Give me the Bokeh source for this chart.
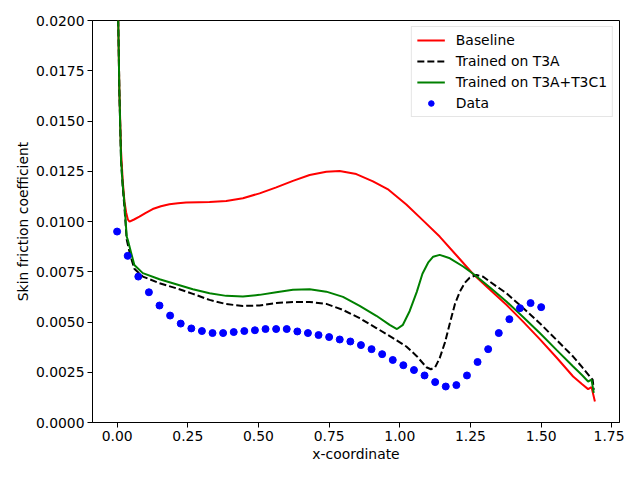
from bokeh.plotting import figure
from bokeh.models import FixedTicker, PrintfTickFormatter, Range1d, Legend, LegendItem
from bokeh.embed import file_html
from bokeh.resources import INLINE

# ---------------- data ----------------
baseline_x = [0.0, 0.004, 0.008, 0.014, 0.020, 0.026, 0.032, 0.038, 0.044, 0.060, 0.079, 0.100,
              0.126, 0.155, 0.185, 0.215, 0.244, 0.290, 0.327, 0.386, 0.445, 0.504, 0.563, 0.622,
              0.681, 0.740, 0.787, 0.846, 0.905, 0.960, 1.023, 1.080, 1.141, 1.200, 1.259, 1.318,
              1.377, 1.436, 1.495, 1.555, 1.613, 1.645, 1.666, 1.678, 1.690]
baseline_y = [0.0300, 0.0200, 0.0165, 0.0135, 0.0120, 0.0110, 0.01045, 0.0101, 0.00999, 0.0101,
              0.01024, 0.01042, 0.01062, 0.01076, 0.01086, 0.01091, 0.01094, 0.01096, 0.01097,
              0.01102, 0.01116, 0.01140, 0.01170, 0.01202, 0.01231, 0.01248, 0.01251, 0.01236,
              0.01200, 0.01158, 0.01085, 0.01008, 0.00925, 0.00832, 0.00739, 0.00662, 0.00586,
              0.00502, 0.00415, 0.00322, 0.00229, 0.00190, 0.00166, 0.00176, 0.00105]

t3a_x = [0.0, 0.004, 0.008, 0.014, 0.020, 0.026, 0.034, 0.042, 0.050, 0.061, 0.091, 0.150,
         0.209, 0.268, 0.327, 0.386, 0.445, 0.504, 0.563, 0.622, 0.681, 0.740, 0.799, 0.858,
         0.917, 0.976, 1.023, 1.060, 1.094, 1.110, 1.125, 1.141, 1.160, 1.177, 1.195, 1.212,
         1.230, 1.247, 1.271, 1.295, 1.318, 1.377, 1.436, 1.495, 1.555, 1.613, 1.645, 1.672,
         1.682, 1.686]
t3a_y = [0.0300, 0.0200, 0.0165, 0.0130, 0.0117, 0.0107, 0.0091, 0.0086, 0.00817, 0.00765,
         0.00726, 0.00693, 0.00668, 0.00640, 0.00610, 0.00589, 0.00580, 0.00582, 0.00594,
         0.00600, 0.00600, 0.00590, 0.00560, 0.00519, 0.00470, 0.00420, 0.00378, 0.00330,
         0.00275, 0.00265, 0.00275, 0.00320, 0.00400, 0.00494, 0.00590, 0.00650, 0.00695,
         0.00720, 0.00734, 0.00725, 0.00701, 0.00643, 0.00570, 0.00494, 0.00410, 0.00328,
         0.00275, 0.00229, 0.00213, 0.00163]

t3c1_x = [0.0, 0.004, 0.008, 0.014, 0.020, 0.026, 0.034, 0.038, 0.050, 0.061, 0.091, 0.150,
          0.209, 0.268, 0.327, 0.386, 0.445, 0.504, 0.563, 0.622, 0.681, 0.740, 0.799, 0.858,
          0.917, 0.964, 0.990, 1.011, 1.035, 1.060, 1.080, 1.100, 1.118, 1.141, 1.177, 1.224,
          1.265, 1.320, 1.377, 1.436, 1.495, 1.555, 1.613, 1.645, 1.666, 1.678, 1.686]
t3c1_y = [0.0300, 0.0200, 0.0165, 0.01306, 0.0118, 0.0109, 0.00925, 0.00908, 0.00842, 0.00784,
          0.00743, 0.00713, 0.00688, 0.00663, 0.00643, 0.00630, 0.00627, 0.00635, 0.00648,
          0.00660, 0.00663, 0.00651, 0.00625, 0.00580, 0.00531, 0.00486, 0.00465, 0.00486,
          0.00555, 0.00650, 0.00740, 0.00795, 0.00825, 0.00834, 0.00817, 0.00776, 0.00734,
          0.00670, 0.00602, 0.00525, 0.00445, 0.00360, 0.00279, 0.00235, 0.00204, 0.00213,
          0.00147]

data_x = [0.0, 0.0375, 0.075, 0.1125, 0.15, 0.1875, 0.225, 0.2625, 0.3, 0.3375, 0.375, 0.4125,
          0.45, 0.4875, 0.525, 0.5625, 0.6, 0.6375, 0.675, 0.7125, 0.75, 0.7875, 0.825, 0.8625,
          0.9, 0.9375, 0.975, 1.0125, 1.05, 1.0875, 1.125, 1.1625, 1.2, 1.2375, 1.275, 1.3125,
          1.35, 1.3875, 1.425, 1.4625, 1.5]
data_y = [0.00950, 0.00829, 0.00726, 0.00648, 0.00582, 0.00532, 0.00492, 0.00468, 0.00455,
          0.00445, 0.00445, 0.00450, 0.00455, 0.00459, 0.00465, 0.00465, 0.00465, 0.00453,
          0.00445, 0.00435, 0.00425, 0.00413, 0.00403, 0.00385, 0.00365, 0.00340, 0.00311,
          0.00285, 0.00261, 0.00234, 0.00201, 0.00179, 0.00186, 0.00234, 0.00301, 0.00365,
          0.00445, 0.00514, 0.00569, 0.00594, 0.00574]

x_ticks = [0.0, 0.25, 0.5, 0.75, 1.0, 1.25, 1.5, 1.75]
y_ticks = [0.0, 0.0025, 0.005, 0.0075, 0.01, 0.0125, 0.015, 0.0175, 0.02]

x_label = "x-coordinate"
y_label = "Skin friction coefficient"
labels = ["Baseline", "Trained on T3A", "Trained on T3A+T3C1", "Data"]

# ---------------- figure ----------------
FONT = "DejaVu Sans"
FS = "13.9px"
p = figure(width=624, height=464, output_backend="svg", toolbar_location=None,
           x_range=Range1d(-0.087, 1.777), y_range=Range1d(0.0, 0.02),
           min_border_left=92, min_border_right=5, min_border_top=20, min_border_bottom=41)
p.grid.visible = False
p.outline_line_color = "black"
p.outline_line_width = 1
p.background_fill_color = "white"
p.border_fill_color = "white"

r_base = p.line(baseline_x, baseline_y, line_color="#ff0000", line_width=2)
r_t3a = p.line(t3a_x, t3a_y, line_color="#000000", line_width=2, line_dash="7 3")
r_t3c1 = p.line(t3c1_x, t3c1_y, line_color="#008000", line_width=2)
r_data = p.scatter(data_x, data_y, size=7, fill_color="#0000ff", line_color="#0000ff")

p.xaxis.ticker = FixedTicker(ticks=x_ticks)
p.yaxis.ticker = FixedTicker(ticks=y_ticks)
p.xaxis.formatter = PrintfTickFormatter(format="%.2f")
p.yaxis.formatter = PrintfTickFormatter(format="%.4f")
p.xaxis.axis_label = x_label
p.yaxis.axis_label = y_label

for ax in (p.xaxis, p.yaxis):
    ax.axis_line_color = "black"
    ax.axis_line_width = 1
    ax.major_tick_line_color = "black"
    ax.major_tick_out = 5
    ax.major_tick_in = 0
    ax.minor_tick_line_color = None
    ax.major_label_text_font = FONT
    ax.major_label_text_font_size = FS
    ax.major_label_text_color = "black"
    ax.axis_label_text_font = FONT
    ax.axis_label_text_font_size = FS
    ax.axis_label_text_font_style = "normal"
    ax.axis_label_text_color = "black"
    ax.major_label_standoff = 3
    ax.axis_label_standoff = 2

legend = Legend(items=[
    LegendItem(label=labels[0], renderers=[r_base]),
    LegendItem(label=labels[1], renderers=[r_t3a]),
    LegendItem(label=labels[2], renderers=[r_t3c1]),
    LegendItem(label=labels[3], renderers=[r_data]),
], location="top_right")
legend.label_text_font = FONT
legend.label_text_font_size = FS
legend.label_text_color = "black"
legend.glyph_width = 28
legend.glyph_height = 14
legend.label_height = 14
legend.spacing = 5
legend.padding = 5
legend.label_standoff = 11
legend.margin = 6
legend.border_line_color = "#cccccc"
legend.border_line_width = 1
legend.background_fill_alpha = 0.8
p.add_layout(legend)

open("out.html", "w").write(file_html(p, INLINE))
